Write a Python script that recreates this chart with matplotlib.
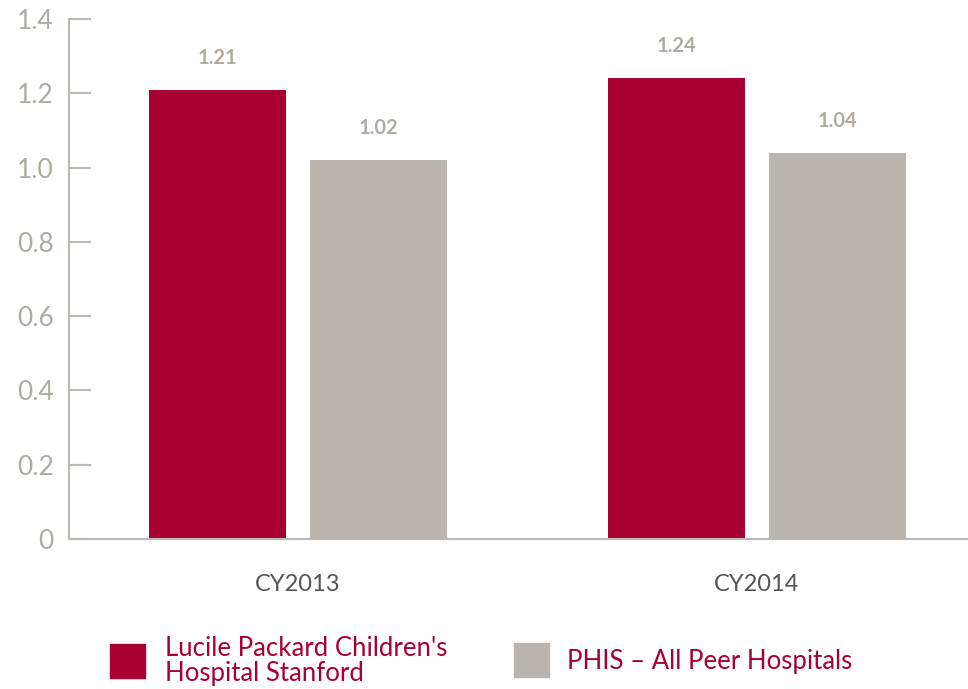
import numpy as np
import matplotlib.pyplot as plt
from matplotlib.patches import Rectangle

years = ['CY2013', 'CY2014']
lpch = [1.21, 1.24]
phis = [1.02, 1.04]
series_names = ["Lucile Packard Children's\nHospital Stanford", 'PHIS – All Peer Hospitals']
yticks = [0, 0.2, 0.4, 0.6, 0.8, 1.0, 1.2, 1.4]
ytick_labels = ['0', '0.2', '0.4', '0.6', '0.8', '1.0', '1.2', '1.4']

red = '#A80033'
gray = '#B9B4AD'
axis_gray = '#BDB8B1'
label_gray = '#B0AAA3'

plt.rcParams['font.family'] = ['Lato', 'DejaVu Sans']

fig = plt.figure(figsize=(9.68, 6.89), dpi=100)
ax = fig.add_axes([69 / 968, 150 / 689, 899 / 968, 520 / 689])

x = np.arange(len(years))
w = 0.2985
off = 0.1754
b1 = ax.bar(x - off, lpch, w, color=red)
b2 = ax.bar(x + off, phis, w, color=gray)

for bars, vals in [(b1, lpch), (b2, phis)]:
    for rect, v in zip(bars, vals):
        ax.annotate(f'{v:.2f}', (rect.get_x() + rect.get_width() / 2, v),
                    xytext=(0, 23), textcoords='offset points',
                    ha='center', va='center', fontsize=14.5, fontweight='bold',
                    color=label_gray)

ax.set_xlim(-0.4989, 1.4597)
ax.set_ylim(0, 1.4)
ax.set_yticks(yticks)
ax.set_yticklabels(ytick_labels)
ax.set_xticks(x)
ax.set_xticklabels(years)

for s in ['top', 'right']:
    ax.spines[s].set_visible(False)
for s in ['left', 'bottom']:
    ax.spines[s].set_color(axis_gray)
    ax.spines[s].set_linewidth(1.5)

ax.tick_params(axis='y', direction='in', length=16, width=1.5, color=axis_gray,
               labelcolor=label_gray, labelsize=19, pad=11)
ax.tick_params(axis='x', length=0, labelcolor='#555555', labelsize=17, pad=25)

# legend
fig.add_artist(Rectangle((110 / 968, 1 - 678 / 689), 35 / 968, 34 / 689,
                         transform=fig.transFigure, color=red))
fig.add_artist(Rectangle((514 / 968, 1 - 677 / 689), 35 / 968, 34 / 689,
                         transform=fig.transFigure, color=gray))
fig.text(165 / 968, 1 - 661 / 689, series_names[0], color=red, fontsize=18.5,
         va='center', ha='left', linespacing=1.0)
fig.text(567 / 968, 1 - 662 / 689, series_names[1], color=red, fontsize=18.5,
         va='center', ha='left')

fig.savefig('out.png', dpi=100)
